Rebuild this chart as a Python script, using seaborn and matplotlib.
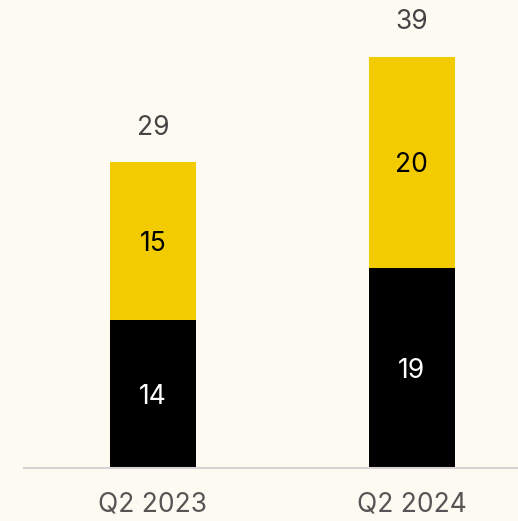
import pandas as pd
import seaborn as sns
import matplotlib.pyplot as plt

quarters = ["Q2 2023", "Q2 2024"]
bottom_vals = [14, 19]
top_vals = [15, 20]
totals = [29, 39]

bg = "#fdfaf2"
yellow = "#f2cb00"

sns.set_theme(style="white")
plt.rcParams['font.family'] = ['Inter', 'DejaVu Sans']

df = pd.DataFrame({"quarter": quarters, "bottom": bottom_vals, "top": top_vals, "total": totals})

fig = plt.figure(figsize=(5.18, 5.21), dpi=100, facecolor=bg)
ax = fig.add_axes([24 / 518, 53 / 521, 1 - 24 / 518, 468 / 521])
ax.set_facecolor(bg)

# stacked: draw totals in yellow, then black bottom part over them
sns.barplot(data=df, x="quarter", y="total", color=yellow, width=0.332, saturation=1, linewidth=0, ax=ax)
sns.barplot(data=df, x="quarter", y="bottom", color="black", width=0.332, saturation=1, linewidth=0, ax=ax)

fs = 19
for i, (b, t, tot) in enumerate(zip(bottom_vals, top_vals, totals)):
    ax.text(i, b / 2, str(b), ha="center", va="center_baseline", color="white", fontsize=fs)
    ax.text(i, b + t / 2, str(t), ha="center", va="center_baseline", color="black", fontsize=fs)
    ax.text(i, tot + 2.0, str(tot), ha="center", va="bottom", color="#444444", fontsize=fs)

ax.set_xlim(-0.498, 1.41)
ax.set_ylim(0, 468 / 10.55)
ax.set_xlabel("")
ax.set_ylabel("")
ax.set_yticks([])
for s in ["top", "right", "left"]:
    ax.spines[s].set_visible(False)
ax.spines["bottom"].set_color("#d4d4d4")
ax.spines["bottom"].set_linewidth(1.5)
ax.tick_params(axis="x", length=0, pad=17, labelsize=fs, labelcolor="#555555")

fig.savefig("out.png", dpi=100, facecolor=bg)
